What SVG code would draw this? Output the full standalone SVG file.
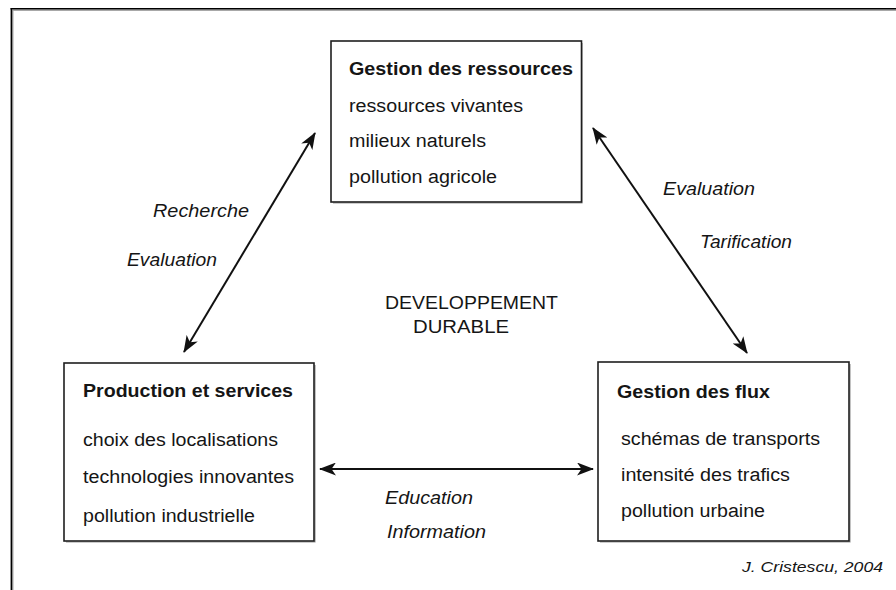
<svg xmlns="http://www.w3.org/2000/svg" width="896" height="590" viewBox="0 0 896 590">
<style>
text{font-family:"Liberation Sans",Arial,sans-serif;fill:#151515;font-size:18px}
.b{font-weight:bold}
.i{font-style:italic}
.box{fill:#fff;stroke:#1e1e1e;stroke-width:1.6}
.sh{fill:none;stroke:#9a9a9a;stroke-width:1.2}
.con{stroke:#111;stroke-width:2;fill:none;marker-start:url(#ah);marker-end:url(#ah)}
</style>
<defs>
<marker id="ah" viewBox="0 0 17 13" markerWidth="17" markerHeight="13" markerUnits="userSpaceOnUse" refX="16" refY="6.5" orient="auto-start-reverse">
<path d="M0,0 L17,6.5 L0,13 L4.5,6.5 z" fill="#111"/>
</marker>
</defs>
<rect width="896" height="590" fill="#fff"/>
<g id="frame">
<line x1="13" y1="10.2" x2="896" y2="10.2" stroke="#a8a8a8" stroke-width="1.4"/>
<line x1="12.8" y1="10" x2="12.8" y2="590" stroke="#a8a8a8" stroke-width="1.4"/>
<line x1="10.6" y1="8.7" x2="896" y2="8.7" stroke="#000" stroke-width="1.6"/>
<line x1="11.4" y1="8" x2="11.4" y2="590" stroke="#000" stroke-width="1.6"/>
</g>
<g id="connectors">
<line class="con" x1="184" y1="352" x2="315" y2="133"/>
<line class="con" x1="593" y1="128" x2="747" y2="353"/>
<line class="con" x1="320" y1="469" x2="593" y2="469"/>
</g>
<g id="labels">
<text class="i" x="153" y="217" textLength="96" lengthAdjust="spacingAndGlyphs">Recherche</text>
<text class="i" x="127" y="266" textLength="90" lengthAdjust="spacingAndGlyphs">Evaluation</text>
<text class="i" x="663" y="195" textLength="92" lengthAdjust="spacingAndGlyphs">Evaluation</text>
<text class="i" x="700" y="248" textLength="92" lengthAdjust="spacingAndGlyphs">Tarification</text>
<text class="i" x="385" y="504" textLength="88" lengthAdjust="spacingAndGlyphs">Education</text>
<text class="i" x="387" y="538" textLength="99" lengthAdjust="spacingAndGlyphs">Information</text>
<text x="385" y="309" textLength="173" lengthAdjust="spacingAndGlyphs">DEVELOPPEMENT</text>
<text x="413" y="333" textLength="96" lengthAdjust="spacingAndGlyphs">DURABLE</text>
<text class="i" x="742" y="572" style="font-size:15px" textLength="141" lengthAdjust="spacingAndGlyphs">J. Cristescu, 2004</text>
</g>
<g id="node-ressources">
<polyline class="sh" points="333,203 582,203 582,43"/>
<rect class="box" x="331" y="41" width="250.5" height="161"/>
<text class="b" x="349" y="75" textLength="224" lengthAdjust="spacingAndGlyphs">Gestion des ressources</text>
<text x="349" y="112" textLength="174" lengthAdjust="spacingAndGlyphs">ressources vivantes</text>
<text x="349" y="147" textLength="137" lengthAdjust="spacingAndGlyphs">milieux naturels</text>
<text x="349" y="183" textLength="148" lengthAdjust="spacingAndGlyphs">pollution agricole</text>
</g>
<g id="node-production">
<polyline class="sh" points="66,542 315,542 315,365"/>
<rect class="box" x="64" y="363" width="250" height="178"/>
<text class="b" x="83" y="397" textLength="210" lengthAdjust="spacingAndGlyphs">Production et services</text>
<text x="83" y="446" textLength="195" lengthAdjust="spacingAndGlyphs">choix des localisations</text>
<text x="83" y="483" textLength="211" lengthAdjust="spacingAndGlyphs">technologies innovantes</text>
<text x="83" y="522" textLength="172" lengthAdjust="spacingAndGlyphs">pollution industrielle</text>
</g>
<g id="node-flux">
<polyline class="sh" points="600,542 850,542 850,364"/>
<rect class="box" x="598" y="362" width="251" height="179"/>
<text class="b" x="617" y="398" textLength="153" lengthAdjust="spacingAndGlyphs">Gestion des flux</text>
<text x="621" y="445" textLength="199" lengthAdjust="spacingAndGlyphs">schémas de transports</text>
<text x="621" y="481" textLength="169" lengthAdjust="spacingAndGlyphs">intensité des trafics</text>
<text x="621" y="517" textLength="144" lengthAdjust="spacingAndGlyphs">pollution urbaine</text>
</g>
</svg>
